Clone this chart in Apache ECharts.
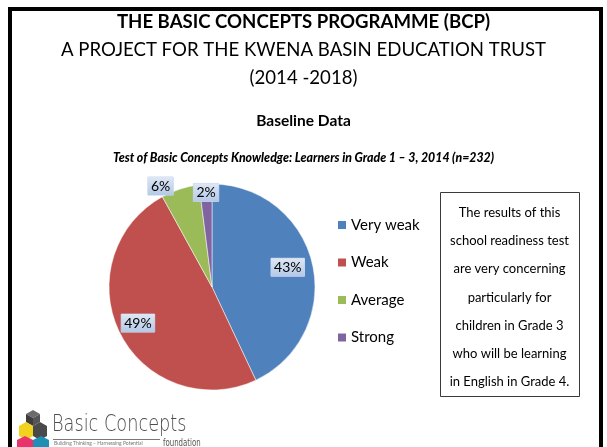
<!DOCTYPE html>
<html lang="en">
<head>
    <meta charset="UTF-8">
    <title>Basic Concepts Programme - Baseline Data</title>
    <style>
        html, body { margin: 0; padding: 0; background: #fff; }
        #chart { width: 607px; height: 447px; }
    </style>
</head>
<body>
<div id="chart"></div>
<script src="https://cdn.jsdelivr.net/npm/echarts@6/dist/echarts.min.js"></script>
<script>
    // data
    var categories = ['Very weak', 'Weak', 'Average', 'Strong'];
    var percents = [43, 49, 6, 2];
    var colors = ['#4f81bd', '#c0504d', '#9bbb59', '#8064a2'];
    var noteLines = [
        'The results of this',
        'school readiness test',
        'are very concerning',
        'particularly for',
        'children in Grade 3',
        'who will be learning',
        'in English in Grade 4.'
    ];

    // where each data label sits: [fraction of radius, angle nudge in degrees]
    var labelPlace = [[0.76, -2], [0.8, 1], [1.1, -9], [0.92, 0]];

    var pieCenter = [212, 287];
    var pieRadius = 103;
    var font = 'Lato, "Open Sans", sans-serif';

    var dom = document.getElementById('chart');
    var myChart = echarts.init(dom);

    var pieData = categories.map(function (name, i) {
        return {name: name, value: percents[i], itemStyle: {color: colors[i]}};
    });

    var option = {
        animation: false,
        title: [
            {
                text: 'THE BASIC CONCEPTS PROGRAMME (BCP)',
                left: 'center', top: 9, padding: 0,
                textStyle: {fontFamily: font, fontSize: 18.6, fontWeight: 'bold', color: '#000', lineHeight: 26}
            },
            {
                text: 'A PROJECT FOR THE KWENA BASIN EDUCATION TRUST\n(2014 -2018)',
                left: 'center', top: 36, padding: 0,
                textStyle: {fontFamily: font, fontSize: 18.6, fontWeight: 'normal', color: '#000', lineHeight: 28}
            },
            {
                text: 'Baseline Data',
                left: 'center', top: 111, padding: 0,
                textStyle: {fontFamily: font, fontSize: 15.5, fontWeight: 'bold', color: '#000', lineHeight: 20}
            },
            {
                text: 'Test of Basic Concepts Knowledge: Learners in Grade 1 \u2013 3, 2014 (n=232)',
                left: 'center', top: 150, padding: 0,
                textStyle: {fontFamily: font, fontSize: 12.3, fontWeight: 900, fontStyle: 'italic', color: '#000', lineHeight: 16}
            }
        ],
        legend: {
            orient: 'vertical',
            left: 331, top: 211,
            icon: 'rect',
            itemWidth: 10, itemHeight: 10,
            itemGap: 19.5,
            selectedMode: false,
            data: categories,
            textStyle: {fontFamily: font, fontSize: 15, color: '#000', lineHeight: 18, padding: [0, 0, 0, -1]}
        },
        series: [
            {
                type: 'pie',
                center: pieCenter,
                radius: pieRadius,
                startAngle: 90,
                clockwise: true,
                silent: true,
                data: pieData,
                itemStyle: {borderColor: '#fff', borderWidth: 0.5},
                label: {
                    position: 'inside',
                    formatter: '{c}%',
                    fontFamily: font,
                    fontSize: 14,
                    color: '#000',
                    padding: [3, 3, 1, 3],
                    backgroundColor: {
                        type: 'linear', x: 0, y: 0, x2: 0, y2: 1,
                        colorStops: [{offset: 0, color: '#dfe8f5'}, {offset: 1, color: '#b3c8e6'}]
                    },
                    borderColor: '#c6d6ee', borderWidth: 0.5
                },
                labelLine: {show: false},
                labelLayout: function (params) {
                    var r = params.labelRect;
                    var lx = r.x + r.width / 2 - pieCenter[0];
                    var ly = r.y + r.height / 2 - pieCenter[1];
                    var place = labelPlace[params.dataIndex];
                    var ang = Math.atan2(ly, lx) + place[1] * Math.PI / 180;
                    var d = place[0] * pieRadius;
                    return {x: pieCenter[0] + d * Math.cos(ang), y: pieCenter[1] + d * Math.sin(ang)};
                }
            }
        ],
        graphic: [
            // slide frame
            {
                type: 'rect', z: 10, silent: true,
                shape: {x: 10, y: 9, width: 591, height: 470},
                style: {fill: 'none', stroke: '#000', lineWidth: 4}
            },
            // note box
            {
                type: 'rect', silent: true,
                shape: {x: 440.5, y: 192.5, width: 139, height: 204},
                style: {fill: '#fff', stroke: '#3a3a3a', lineWidth: 1}
            },
            {
                type: 'text', silent: true,
                x: 509.5, y: 199,
                style: {
                    text: noteLines.join('\n'),
                    font: '13px ' + font,
                    fill: '#000',
                    align: 'center',
                    lineHeight: 28.1
                }
            },
            // logo: stacked cubes
            {
                type: 'group', silent: true, x: 17, y: 408,
                children: [
                    {type: 'polygon', shape: {points: [[9, 6], [16, 2], [23, 6], [16, 10]]}, style: {fill: '#6b6b6b'}},
                    {type: 'polygon', shape: {points: [[9, 6], [16, 10], [16, 18], [9, 14]]}, style: {fill: '#3d3d3d'}},
                    {type: 'polygon', shape: {points: [[16, 10], [23, 6], [23, 14], [16, 18]]}, style: {fill: '#555'}},
                    {type: 'polygon', shape: {points: [[2, 18], [9, 14], [16, 18], [16, 28], [9, 32], [2, 28]]}, style: {fill: '#f0d21f'}},
                    {type: 'polygon', shape: {points: [[16, 18], [23, 14], [30, 18], [30, 28], [23, 32], [16, 28]]}, style: {fill: '#4a4a4a'}},
                    {type: 'polygon', shape: {points: [[0, 32], [8, 28], [16, 32], [16, 40], [0, 40]]}, style: {fill: '#e8336d'}},
                    {type: 'polygon', shape: {points: [[16, 32], [24, 28], [32, 32], [32, 40], [16, 40]]}, style: {fill: '#1f8fb5'}}
                ]
            },
            {
                type: 'text', silent: true, x: 52, y: 414, scaleX: 0.77,
                style: {text: 'Basic Concepts', font: '300 23px "DejaVu Sans", sans-serif', fill: '#4d4d4d'}
            },
            {
                type: 'line', silent: true,
                shape: {x1: 53, y1: 439.5, x2: 160, y2: 439.5},
                style: {stroke: '#777', lineWidth: 1}
            },
            {
                type: 'text', silent: true, x: 54, y: 441,
                style: {text: 'Building Thinking \u2013 Harnessing Potential', font: '5px ' + font, fill: '#777'}
            },
            {
                type: 'text', silent: true, x: 163, y: 438, scaleX: 0.7,
                style: {text: 'foundation', font: '10px "DejaVu Sans", sans-serif', fill: '#555'}
            }
        ]
    };

    myChart.setOption(option, true);
</script>
</body>
</html>
